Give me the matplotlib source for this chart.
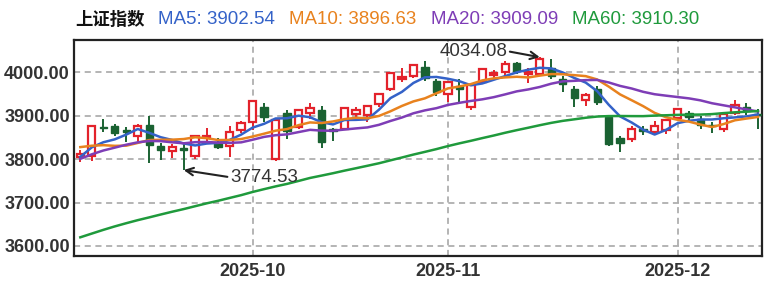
import matplotlib
matplotlib.use("Agg")
import matplotlib.pyplot as plt
import numpy as np
import pandas as pd

# Closes before the visible window (2025-06-19 .. 2025-09-09), only used for the moving averages
hist_close = [
    3362.11, 3359.90, 3381.58, 3420.57, 3455.97, 3448.45, 3424.23, 3444.43,
    3457.75, 3454.79, 3461.15, 3472.32, 3473.13, 3497.48, 3493.05, 3509.68,
    3510.18, 3519.65, 3505.00, 3503.78, 3516.83, 3534.48, 3559.79, 3581.86,
    3582.30, 3605.73, 3593.66, 3597.94, 3609.71, 3615.72, 3573.21,
    3559.95, 3583.31, 3617.60, 3633.99, 3639.67, 3635.13, 3647.55, 3665.92,
    3683.23, 3666.44, 3696.77, 3728.03, 3727.29, 3766.21, 3771.10, 3825.76,
    3883.56, 3868.38, 3800.35, 3843.60, 3857.93,
    3875.53, 3858.13, 3813.56, 3765.88, 3812.51, 3826.84, 3807.29,
]

# Daily candles 2025-09-10 .. 2025-12-10
open_ = [
    3804, 3808, 3874, 3877, 3866, 3852, 3878, 3830, 3818, 3826,
    3806, 3850, 3840, 3830, 3866, 3886, 3920, 3800, 3905, 3874,
    3905, 3913, 3868, 3870, 3904, 3902, 3926, 3962, 3984, 3990,
    4012, 3980, 3950, 3968, 3920, 3978, 3994, 4000, 4020, 3996,
    3996, 4010, 3985, 3962, 3936, 3962, 3896, 3848, 3846, 3868,
    3862, 3866, 3895, 3905, 3893, 3878, 3870, 3906, 3920, 3904,
]
high = [
    3820, 3876, 3892, 3881, 3874, 3880, 3899.96, 3836, 3835, 3836,
    3856, 3872, 3848, 3876, 3888, 3936.58, 3929, 3892, 3912, 3916,
    3928, 3922, 3872, 3918, 3920, 3925, 3952, 3999, 4010, 4016.5,
    4025.7, 3985, 3978, 3985, 3972, 4010, 4004, 4025, 4023, 4010,
    4034.08, 4030, 3990, 3968, 3952, 3968, 3898, 3852, 3875, 3875,
    3888, 3890, 3917, 3910, 3898, 3885, 3905, 3936, 3928, 3915,
]
low = [
    3794, 3796, 3862, 3852, 3838, 3840, 3790, 3797, 3803, 3774.53,
    3800, 3840, 3822, 3805, 3860, 3866, 3885, 3795, 3846, 3868,
    3892, 3826, 3842, 3866, 3896, 3885, 3920, 3956, 3978, 3987,
    3980, 3946, 3930, 3930, 3912, 3975, 3986, 3988, 3995, 3975,
    3990, 3985, 3955, 3920, 3922, 3925, 3830, 3815, 3840, 3855,
    3855, 3858, 3890, 3890, 3870, 3860, 3862, 3902, 3902, 3870,
]
close = [
    3812.22, 3875.31, 3870.60, 3860.50, 3861.87, 3876.34, 3831.66, 3820.09, 3828.58, 3821.83,
    3853.64, 3853.30, 3828.11, 3862.53, 3882.78, 3933.97, 3897.03, 3889.50, 3865.23, 3912.21,
    3916.23, 3839.76, 3863.89, 3916.33, 3913.76, 3922.41, 3950.31, 3996.94, 3988.22, 4016.33,
    3986.90, 3954.79, 3976.52, 3960.19, 3969.25, 4007.76, 3997.56, 4018.60, 4002.76, 4000.14,
    4029.50, 3990.49, 3972.03, 3939.81, 3946.74, 3931.05, 3834.89, 3836.77, 3870.02, 3864.18,
    3875.26, 3888.60, 3914.01, 3897.71, 3878.00, 3875.79, 3902.81, 3924.08, 3909.52, 3900.50,
]

ma_periods = [5, 10, 20, 60]
ma_colors = ["#3462c8", "#e8821e", "#7e3db6", "#1f9a3c"]
ma_labels = ["MA5: 3902.54", "MA10: 3896.63", "MA20: 3909.09", "MA60: 3910.30"]
index_name = "上证指数"
low_label = "3774.53"
high_label = "4034.08"
y_ticks = [3600, 3700, 3800, 3900, 4000]

# trading days (National Day holiday removed)
holidays = pd.to_datetime(["2025-10-01", "2025-10-02", "2025-10-03",
                           "2025-10-06", "2025-10-07", "2025-10-08"])
dates = pd.bdate_range("2025-09-10", "2025-12-10")
dates = dates[~dates.isin(holidays)]

o = np.array(open_)
h = np.array(high)
l = np.array(low)
c = np.array(close)
x = np.arange(len(c))

all_close = pd.Series(hist_close + close)
mas = [all_close.rolling(n).mean().to_numpy()[-len(c):] for n in ma_periods]

red = "#e3222b"
green = "#1a6232"
txt = "#333333"

fig = plt.figure(figsize=(7.68, 2.86), dpi=100)
ax = fig.add_axes([74 / 768, 1 - 256 / 286, (762 - 74) / 768, (256 - 40) / 286])

up = c >= o
# wicks
ax.vlines(x[up], l[up], h[up], color=red, lw=1.4, zorder=2)
ax.vlines(x[~up], l[~up], h[~up], color=green, lw=1.4, zorder=2)
# bodies: red hollow, green filled
ax.bar(x[up], (c - o)[up], bottom=o[up], width=0.64, facecolor="white",
       edgecolor=red, linewidth=1.6, zorder=3)
ax.bar(x[~up], (o - c)[~up], bottom=c[~up], width=0.64, facecolor=green,
       edgecolor=green, linewidth=1.0, zorder=3)

for ma, col in zip(mas, ma_colors):
    ax.plot(x, ma, color=col, lw=1.8, zorder=4)

# month ticks at first trading day of each month
months = dates.strftime("%Y-%m")
tick_pos = [i for i in range(1, len(months)) if months[i] != months[i - 1]]
ax.set_xticks(tick_pos)
ax.set_xticklabels([months[i] for i in tick_pos])
ax.set_yticks(y_ticks)
ax.set_yticklabels([f"{v:.2f}" for v in y_ticks])
ax.set_xlim(-0.55, 59.35)
ax.set_ylim(3577, 4073.6)
ax.tick_params(length=0, labelsize=13, labelcolor=txt)
ax.tick_params(axis="y", pad=3)
ax.tick_params(axis="x", pad=5)
for lab in ax.get_xticklabels() + ax.get_yticklabels():
    lab.set_fontfamily("Liberation Sans")
    lab.set_fontweight("bold")
ax.grid(True, color="#a0a0a0", linestyle=(0, (4, 3)), linewidth=1.1, zorder=1)
ax.set_axisbelow(True)
for s in ax.spines.values():
    s.set_color("#222222")
    s.set_linewidth(1.6)

# extreme point annotations
i_low = int(np.argmin(l))
i_high = int(np.argmax(h))
ax.annotate(low_label, xy=(i_low, l[i_low]), xytext=(16, 3758),
            ha="center", va="center", fontsize=13.5, color=txt, family="Liberation Sans",
            arrowprops=dict(arrowstyle="->", color="#222222", lw=1.5, relpos=(0, 0.5),
                            shrinkA=0, shrinkB=0), zorder=6)
ax.annotate(high_label, xy=(i_high, h[i_high]), xytext=(34.2, 4048),
            ha="center", va="center", fontsize=13.5, color=txt, family="Liberation Sans",
            arrowprops=dict(arrowstyle="->", color="#222222", lw=1.5, relpos=(1, 0.5),
                            shrinkA=0, shrinkB=0), zorder=6)

# header line: index name + MA values, placed one after another
renderer = fig.canvas.get_renderer()
xpix = 75
ypos = 1 - 20 / 286
t = fig.text(xpix / 768, ypos, index_name, fontsize=12.5, fontweight="bold", color="#111111",
             family=["Noto Sans CJK SC", "DejaVu Sans"], va="center")
xpix = t.get_window_extent(renderer).x1 + 14
for lab, col in zip(ma_labels, ma_colors):
    t = fig.text(xpix / 768, ypos, lab, fontsize=13.5, color=col,
                 family="Liberation Sans", va="center")
    xpix = t.get_window_extent(renderer).x1 + 14

fig.savefig("out.png", dpi=100, facecolor="white")
